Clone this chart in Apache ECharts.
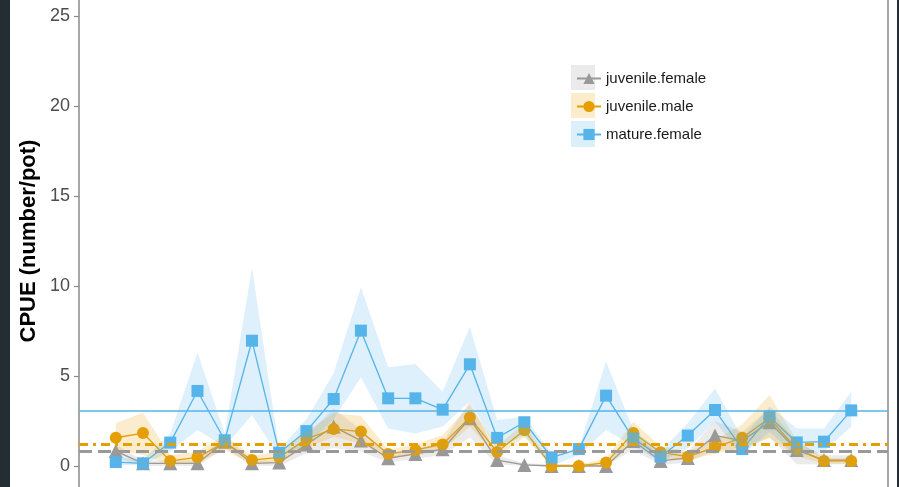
<!DOCTYPE html>
<html>
<head>
<meta charset="utf-8">
<script src="https://cdn.jsdelivr.net/npm/echarts@6/dist/echarts.min.js"></script>
<style>
  html, body { margin: 0; padding: 0; background: #fff; }
  #main { width: 899px; height: 487px; }
</style>
</head>
<body>
<div id="main"></div>
<script>
// sample positions along the x axis (axis itself lies below the visible area)
var surveyIndex = [1, 2, 3, 4, 5, 6, 7, 8, 9, 10, 11, 12, 13, 14, 15, 16, 17, 18, 19, 20, 21, 22, 23, 24, 25, 26, 27, 28];

var groupNames = ['juvenile.female', 'juvenile.male', 'mature.female'];

// juvenile.female
var juvFemale   = [0.83, 0.15, 0.15, 0.15, 1.35, 0.15, 0.19, 1.2, 2.19, 1.41, 0.43, 0.67, 0.93, 2.65, 0.33, 0.06, 0, 0, 0, 1.39, 0.28, 0.45, 1.69, 1.41, 2.43, 0.89, 0.33, 0.33];
var juvFemaleLo = [0.45, 0, 0, 0, 1.0, 0.02, 0.02, 0.7, 1.0, 0.8, 0.2, 0.4, 0.6, 1.6, 0.1, 0, 0, 0, 0, 0.9, 0.05, 0.2, 0.9, 0.9, 1.6, 0.1, 0.1, 0.1];
var juvFemaleHi = [1.2, 0.3, 0.3, 0.3, 1.7, 0.3, 0.3, 1.7, 3.2, 2.0, 0.7, 0.95, 1.3, 3.6, 0.6, 0.15, 0.1, 0.1, 0.1, 1.9, 0.55, 0.8, 2.5, 1.9, 3.2, 1.3, 0.6, 0.6];

// juvenile.male
var juvMale   = [1.57, 1.83, 0.28, 0.48, 1.3, 0.33, 0.48, 1.5, 2.06, 1.91, 0.67, 0.89, 1.2, 2.69, 0.78, 1.98, 0, 0, 0.19, 1.83, 0.76, 0.52, 1.04, 1.57, 2.65, 0.94, 0.28, 0.28];
var juvMaleLo = [0.89, 0.61, 0.05, 0.2, 0.89, 0.1, 0.2, 1.0, 1.63, 1.26, 0.45, 0.6, 0.89, 2.19, 0.5, 1.6, 0, 0, 0.02, 1.26, 0.45, 0.3, 0.7, 1.0, 1.54, 0.55, 0.12, 0.12];
var juvMaleHi = [2.37, 2.96, 0.6, 0.8, 1.72, 0.55, 0.8, 1.9, 2.93, 2.78, 0.9, 1.2, 1.72, 3.39, 1.1, 2.4, 0.1, 0.1, 0.4, 2.46, 1.1, 0.8, 1.45, 2.3, 3.94, 1.4, 0.45, 0.45];

// mature.female
var matFemale   = [0.22, 0.15, 1.3, 4.17, 1.43, 6.96, 0.74, 1.94, 3.72, 7.52, 3.76, 3.76, 3.13, 5.65, 1.56, 2.43, 0.48, 0.94, 3.91, 1.52, 0.52, 1.69, 3.11, 0.94, 2.74, 1.31, 1.35, 3.09];
var matFemaleLo = [0.05, 0.05, 0.8, 2.0, 1.07, 2.83, 0.5, 1.2, 2.6, 4.93, 2.09, 1.81, 2.19, 3.6, 0.89, 1.72, 0, 0.61, 2.0, 1.1, 0.24, 0.98, 2.46, 0.61, 1.9, 0.52, 0.8, 2.19];
var matFemaleHi = [0.5, 0.35, 1.8, 6.3, 1.8, 11.0, 0.9, 2.6, 5.15, 9.93, 5.48, 5.67, 4.13, 7.74, 2.56, 2.74, 0.7, 0.98, 5.8, 2.0, 0.8, 2.37, 4.31, 1.54, 3.3, 2.09, 2.09, 4.13];

// overall means (horizontal reference lines)
var groupMeans = [0.8, 1.2, 3.06];

var yTicks = [0, 5, 10, 15, 20, 25];

var colors = ['#999999', '#E69F00', '#56B4E9'];
var symbols = ['triangle', 'circle', 'rect'];
var symbolSizes = [14, 12, 12];
var meanStyles = [
    { type: [13, 6], width: 3 },
    { type: [9, 5, 3, 5], width: 3 },
    { type: 'solid', width: 1.5 }
];

var values = [juvFemale, juvMale, matFemale];
var lows = [juvFemaleLo, juvMaleLo, matFemaleLo];
var highs = [juvFemaleHi, juvMaleHi, matFemaleHi];

function pairs(xs, ys) {
    var out = [];
    for (var i = 0; i < xs.length; i++) {
        out.push([xs[i], ys[i]]);
    }
    return out;
}
function triples(xs, lo, hi) {
    var out = [];
    for (var i = 0; i < xs.length; i++) {
        out.push([xs[i], lo[i], hi[i]]);
    }
    return out;
}

// ribbon drawn as one polygon, built on the first item from all rows
function ribbonSeries(name, rows, color) {
    return {
        name: name,
        type: 'custom',
        data: rows,
        encode: { x: 0, y: [1, 2] },
        silent: true,
        z: 3,
        renderItem: function (params, api) {
            if (params.dataIndex !== 0) return null;
            var top = [], bottom = [];
            for (var i = 0; i < rows.length; i++) {
                top.push(api.coord([rows[i][0], rows[i][2]]));
                bottom.push(api.coord([rows[i][0], rows[i][1]]));
            }
            return {
                type: 'polygon',
                shape: { points: top.concat(bottom.reverse()) },
                style: { fill: color, opacity: 0.2 }
            };
        }
    };
}

var series = [];
for (var g = 0; g < 3; g++) {
    series.push({
        name: groupNames[g],
        type: 'line',
        data: pairs(surveyIndex, values[g]),
        symbol: symbols[g],
        symbolSize: symbolSizes[g],
        showSymbol: true,
        itemStyle: { color: colors[g], opacity: 1 },
        lineStyle: { color: colors[g], width: 1.3 },
        z: 2,
        markLine: {
            silent: true,
            symbol: 'none',
            label: { show: false },
            lineStyle: { color: colors[g], type: meanStyles[g].type, width: meanStyles[g].width },
            data: [{ yAxis: groupMeans[g] }],
            animation: false
        }
    });
}
for (var r = 0; r < 3; r++) {
    series.push(ribbonSeries(groupNames[r] + ' band', triples(surveyIndex, lows[r], highs[r]), colors[r]));
}

var option = {
    backgroundColor: '#ffffff',
    animation: false,
    grid: {
        left: 79,
        right: 11,
        top: -74,
        bottom: -69,
        outerBoundsMode: 'none'
    },
    xAxis: {
        type: 'value',
        min: -0.35,
        max: 29.35,
        axisLine: { show: false },
        axisTick: { show: false },
        axisLabel: { show: false },
        splitLine: { show: false }
    },
    yAxis: [{
        type: 'value',
        min: -5,
        max: 30,
        interval: 5,
        name: 'CPUE (number/pot)',
        nameLocation: 'middle',
        nameRotate: 90,
        nameGap: 39,
        nameMoveOverlap: false,
        nameTextStyle: {
            fontFamily: 'Liberation Sans, Arial, sans-serif',
            fontSize: 22,
            fontWeight: 'bold',
            color: '#000000'
        },
        axisLine: { show: true, onZero: false, lineStyle: { color: '#8a8a8a', width: 1.5 } },
        axisTick: { show: true, length: 5, lineStyle: { color: '#8a8a8a', width: 1.2 } },
        axisLabel: {
            margin: 9,
            fontFamily: 'Liberation Sans, Arial, sans-serif',
            fontSize: 18,
            color: '#4d4d4d',
            formatter: function (v) {
                return yTicks.indexOf(v) >= 0 ? String(v) : '';
            }
        },
        splitLine: { show: false }
    }, {
        type: 'value',
        position: 'right',
        min: -5,
        max: 30,
        interval: 5,
        axisLine: { show: true, onZero: false, lineStyle: { color: '#8a8a8a', width: 1.5 } },
        axisTick: { show: false },
        axisLabel: { show: false },
        splitLine: { show: false }
    }],
    legend: {
        data: groupNames,
        orient: 'vertical',
        left: 571,
        top: 66,
        itemWidth: 24,
        itemHeight: 14,
        itemGap: 13,
        z: 10,
        textStyle: {
            fontFamily: 'Liberation Sans, Arial, sans-serif',
            fontSize: 15,
            lineHeight: 15,
            color: '#1a1a1a'
        }
    },
    graphic: [
        { type: 'rect', left: 0, top: 0, shape: { width: 10, height: 487 }, style: { fill: '#252d34' }, z: 20 },
        { type: 'rect', left: 897, top: 0, shape: { width: 2, height: 487 }, style: { fill: '#252d34' }, z: 20 },
        { type: 'rect', left: 571, top: 65, shape: { width: 24, height: 25 }, style: { fill: '#ebebeb' }, z: 1 },
        { type: 'rect', left: 571, top: 93, shape: { width: 24, height: 25 }, style: { fill: '#fbeccc' }, z: 1 },
        { type: 'rect', left: 571, top: 121, shape: { width: 24, height: 26 }, style: { fill: '#ddf0fa' }, z: 1 }
    ],
    series: series
};

var chart = echarts.init(document.getElementById('main'));
chart.setOption(option);
</script>
</body>
</html>
